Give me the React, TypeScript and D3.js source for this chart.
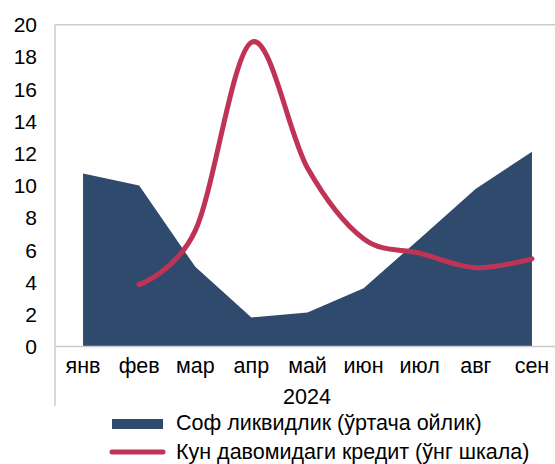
import React from "react";
import * as d3 from "d3";

const months = ["янв", "фев", "мар", "апр", "май", "июн", "июл", "авг", "сен"];
const liquidity = [10.75, 10.0, 4.95, 1.8, 2.12, 3.62, 6.7, 9.8, 12.1];
const credit: (number | null)[] = [null, 3.85, 7.2, 18.9, 11.1, 6.7, 5.8, 4.9, 5.45];
const leftTicks = [0, 2, 4, 6, 8, 10, 12, 14, 16, 18, 20];
const yearLabel = "2024";
const legendLabels = ["Соф ликвидлик (ўртача ойлик)", "Кун давомидаги кредит (ўнг шкала)"];

const W = 555;
const H = 464;
const AREA_COLOR = "#2F4A6D";
const LINE_COLOR = "#BF3355";
const FRAME = "#CBCBCB";
const FONT = "'Liberation Sans', Arial, sans-serif";

export default function App() {
  const x = d3.scaleBand<string>().domain(months).range([55, 560]);
  const cx = (m: string) => (x(m) as number) + x.bandwidth() / 2;
  const y = d3.scaleLinear().domain([0, 20]).range([346.5, 24.7]);
  const yRight = d3.scaleLinear().domain([0, 20]).range([346.5, 24.7]);

  const areaGen = d3
    .area<number>()
    .x((_, i) => cx(months[i]))
    .y0(y(0))
    .y1((d) => y(d));

  const linePts = credit
    .map((v, i) => ({ m: months[i], v }))
    .filter((d) => d.v !== null) as { m: string; v: number }[];
  const lineGen = d3
    .line<{ m: string; v: number }>()
    .x((d) => cx(d.m))
    .y((d) => yRight(d.v))
    .curve(d3.curveCardinal.tension(0));

  return (
    <svg
      width={W}
      height={H}
      style={{ position: "absolute", left: 0, top: 0, background: "#fff" }}
      fontFamily={FONT}
    >
      <rect x={0} y={0} width={W} height={H} fill="#fff" />
      {/* frame */}
      <line x1={55} x2={W} y1={y(20)} y2={y(20)} stroke={FRAME} strokeWidth={1.5} />
      <line x1={55} x2={55} y1={y(20)} y2={406} stroke={FRAME} strokeWidth={1.5} />
      <path d={areaGen(liquidity) || ""} fill={AREA_COLOR} />
      <line x1={55} x2={W} y1={y(0)} y2={y(0)} stroke={FRAME} strokeWidth={1.5} />
      <path
        d={lineGen(linePts) || ""}
        fill="none"
        stroke={LINE_COLOR}
        strokeWidth={5}
        strokeLinecap="round"
        strokeLinejoin="round"
      />
      {/* left ticks */}
      {leftTicks.map((t) => (
        <text
          key={t}
          x={37}
          y={y(t)}
          dy="0.36em"
          textAnchor="end"
          fontSize={21}
          fill="#000"
        >
          {t}
        </text>
      ))}
      {/* x labels */}
      {months.map((m) => (
        <text key={m} x={cx(m)} y={373} textAnchor="middle" fontSize={21.5} fill="#000">
          {m}
        </text>
      ))}
      <text x={307} y={404} textAnchor="middle" fontSize={21.5} fill="#000">
        {yearLabel}
      </text>
      {/* legend */}
      <rect x={112} y={419} width={51} height={10} fill={AREA_COLOR} />
      <text x={176} y={430} fontSize={21.5} fill="#000">
        {legendLabels[0]}
      </text>
      <line
        x1={112}
        x2={163}
        y1={452}
        y2={452}
        stroke={LINE_COLOR}
        strokeWidth={5}
        strokeLinecap="round"
      />
      <text x={176} y={458.5} fontSize={21.5} fill="#000">
        {legendLabels[1]}
      </text>
    </svg>
  );
}
